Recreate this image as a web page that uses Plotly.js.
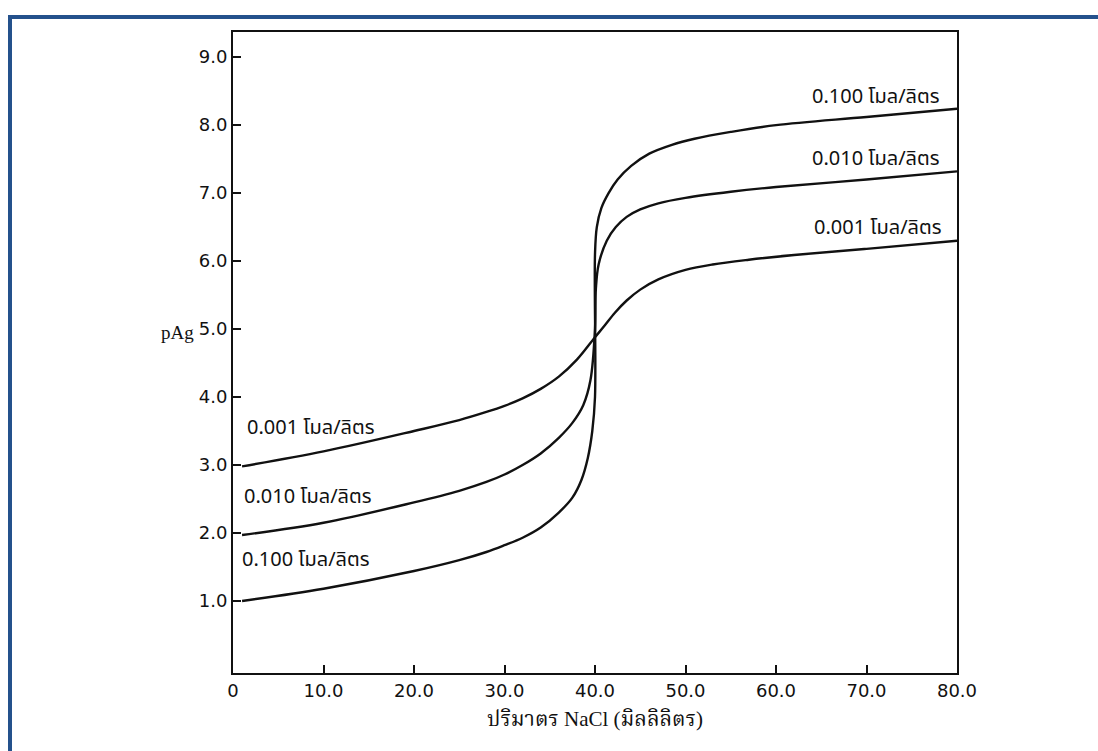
<!DOCTYPE html>
<html>
<head>
<meta charset="utf-8">
<script src="https://cdn.plot.ly/plotly-3.0.1.min.js"></script>
<style>
  html, body { margin: 0; padding: 0; background: #ffffff; }
  #wrap { position: relative; width: 1098px; height: 751px; overflow: hidden; }
  #frame { position: absolute; left: 8px; top: 15px; width: 1100px; height: 760px;
           border-top: 4px solid #24518c; border-left: 4px solid #24518c; pointer-events: none; z-index: 5; }
  #chart { position: absolute; left: 0; top: 0; width: 1098px; height: 751px; }
</style>
</head>
<body>
<div id="wrap">
  <div id="chart"></div>
  <div id="frame"></div>
</div>
<script>
// Data
const x100 = [1, 10, 20, 25, 28, 30, 32, 34, 36, 37.5, 38.5, 39.2, 39.7, 40, 40, 40.2, 40.7, 41.5, 42.5, 44, 46, 48.5, 51, 55, 60, 70, 80];
const y100 = [1.0, 1.18, 1.44, 1.6, 1.72, 1.82, 1.93, 2.08, 2.3, 2.52, 2.78, 3.1, 3.5, 4.0, 6.1, 6.5, 6.78, 7.0, 7.2, 7.4, 7.58, 7.71, 7.8, 7.9, 8.0, 8.12, 8.24];

const x010 = [1, 10, 20, 25, 28, 30, 32, 34, 36, 37.5, 38.7, 39.5, 40, 40.1, 40.4, 41.3, 42.3, 43.5, 45, 47, 50, 55, 60, 70, 80];
const y010 = [1.97, 2.15, 2.45, 2.62, 2.75, 2.86, 3.0, 3.17, 3.4, 3.62, 3.88, 4.25, 5.0, 5.6, 5.95, 6.3, 6.5, 6.65, 6.76, 6.85, 6.93, 7.02, 7.09, 7.2, 7.32];

const x001 = [1, 10, 20, 25, 28, 30, 32, 34, 36, 38, 40, 41, 42.2, 43.5, 45, 47, 50, 53, 57, 62, 70, 80];
const y001 = [2.98, 3.2, 3.5, 3.66, 3.78, 3.87, 3.98, 4.12, 4.3, 4.55, 4.88, 5.04, 5.24, 5.42, 5.58, 5.73, 5.87, 5.95, 6.02, 6.09, 6.18, 6.3];

const xTickVals = [0, 10, 20, 30, 40, 50, 60, 70, 80];
const xTickText = ["0", "10.0", "20.0", "30.0", "40.0", "50.0", "60.0", "70.0", "80.0"];
const yTickVals = [1, 2, 3, 4, 5, 6, 7, 8, 9];
const yTickText = ["1.0", "2.0", "3.0", "4.0", "5.0", "6.0", "7.0", "8.0", "9.0"];

const seriesNames = ["0.100 โมล/ลิตร", "0.010 โมล/ลิตร", "0.001 โมล/ลิตร"];
const xTitle = "ปริมาตร NaCl (มิลลิลิตร)";
const yTitle = "pAg";

// label anchor values (data coords)
const rightLabelX = [78.3, 78.3, 78.6];
const rightLabelY = [8.41, 7.5, 6.49];
const leftLabelX = [0.8, 1.0, 1.3];
const leftLabelY = [1.6, 2.53, 3.54];

const lineStyle = {color: "#111111", width: 2.4, shape: "spline", smoothing: 1.0};
const traces = [
  {x: x100, y: y100, name: seriesNames[0], mode: "lines", line: lineStyle, hoverinfo: "x+y"},
  {x: x010, y: y010, name: seriesNames[1], mode: "lines", line: lineStyle, hoverinfo: "x+y"},
  {x: x001, y: y001, name: seriesNames[2], mode: "lines", line: lineStyle, hoverinfo: "x+y"}
];

const labelFont = {family: "Tahoma, 'Noto Sans Thai', 'Noto Sans', 'DejaVu Sans', sans-serif", size: 20, color: "#111111"};
const annotations = [];
for (let i = 0; i < 3; i++) {
  annotations.push({x: rightLabelX[i], y: rightLabelY[i], xref: "x", yref: "y", text: seriesNames[i],
    showarrow: false, xanchor: "right", yanchor: "middle", font: labelFont});
}
for (let i = 0; i < 3; i++) {
  annotations.push({x: leftLabelX[i], y: leftLabelY[i], xref: "x", yref: "y", text: seriesNames[i],
    showarrow: false, xanchor: "left", yanchor: "middle", font: labelFont});
}
annotations.push({x: -0.051, y: 4.95, xref: "paper", yref: "y", text: yTitle, showarrow: false,
  xanchor: "right", yanchor: "middle",
  font: {family: "'Liberation Serif', 'DejaVu Serif', serif", size: 19, color: "#111111"}});

const tickFont = {family: "'DejaVu Sans', 'Noto Sans', sans-serif", size: 18, color: "#111111"};

const layout = {
  width: 1098, height: 751,
  margin: {l: 233, r: 141, t: 32, b: 78, pad: 0},
  paper_bgcolor: "#ffffff", plot_bgcolor: "#ffffff",
  showlegend: false,
  xaxis: {
    range: [0, 80], tickvals: xTickVals, ticktext: xTickText,
    ticks: "inside", ticklen: 8, tickwidth: 2, tickcolor: "#111111",
    showline: true, linecolor: "#111111", linewidth: 2, mirror: true,
    showgrid: false, zeroline: false, tickfont: tickFont,
    title: {text: xTitle, standoff: 12,
      font: {family: "'Liberation Serif', 'Noto Serif Thai', 'Noto Sans Thai', serif", size: 21, color: "#111111"}}
  },
  yaxis: {
    range: [-0.06, 9.37], tickvals: yTickVals, ticktext: yTickText,
    ticks: "inside", ticklen: 8, tickwidth: 2, tickcolor: "#111111",
    showline: true, linecolor: "#111111", linewidth: 2, mirror: true,
    showgrid: false, zeroline: false, tickfont: tickFont
  },
  annotations: annotations
};

Plotly.newPlot("chart", traces, layout, {displayModeBar: false, staticPlot: true});
</script>
</body>
</html>
